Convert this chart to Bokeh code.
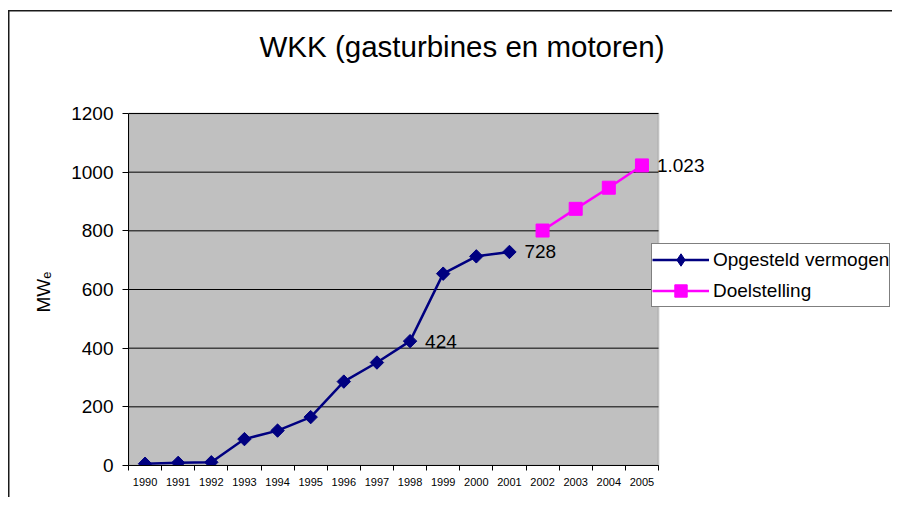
from bokeh.plotting import figure
from bokeh.models import (ColumnDataSource, FixedTicker, Legend, LegendItem,
                          Range1d, BoxAnnotation, Label, Title)
from bokeh.embed import file_html
from bokeh.resources import INLINE
from bokeh.core.properties import value
import numpy as np

# ---- data ----
title_text = "WKK (gasturbines en motoren)"
y_label = "MWₑ"
years_all = [1990, 1991, 1992, 1993, 1994, 1995, 1996, 1997, 1998, 1999,
             2000, 2001, 2002, 2003, 2004, 2005]
years_installed = [1990, 1991, 1992, 1993, 1994, 1995, 1996, 1997, 1998, 1999, 2000, 2001]
installed = [6, 9, 11, 90, 119, 165, 286, 351, 424, 654, 713, 728]
years_target = [2002, 2003, 2004, 2005]
target = [801, 875, 947, 1023]
y_ticks = [0, 200, 400, 600, 800, 1000, 1200]
label_years_installed = [1998, 2001]
label_years_target = [2005]
series_names = ["Opgesteld vermogen", "Doelstelling"]

FONT = "Liberation Sans"
NAVY = "#000080"
MAGENTA = "#FF00FF"

# ---- layout (pixels) ----
W, H = 892, 497
LEFT, BOTTOM = 128, 32
PLOT_AREA_W = 530            # width of the grey plot area in px
PLOT_AREA_H = 352            # height of the grey plot area in px
frame_w = W - LEFT
frame_h = H - BOTTOM
x0 = years_all[0] - 0.5
x1 = years_all[-1] + 0.5
x_end = x0 + (x1 - x0) * frame_w / PLOT_AREA_W
y_end = y_ticks[-1] * frame_h / PLOT_AREA_H

p = figure(width=W, height=H, output_backend="svg", toolbar_location=None,
           x_range=Range1d(x0, x_end), y_range=Range1d(y_ticks[0], y_end),
           min_border_left=LEFT, min_border_right=0,
           min_border_top=0, min_border_bottom=BOTTOM)
p.background_fill_color = None
p.border_fill_color = None
p.outline_line_color = None
p.title.text = ""
# outer chart-area border (left and top edges)
p.styles = {
    "background-image": "linear-gradient(#1a1a1a, #1a1a1a), linear-gradient(#1a1a1a, #1a1a1a)",
    "background-size": "1.5px 100%, 100% 1.5px",
    "background-position": "8px 10px, 8px 10px",
    "background-repeat": "no-repeat",
}

# title (inside the frame area, screen units)
p.add_layout(Label(x=333.5, y=419, x_units="screen", y_units="screen",
                   text=title_text, text_align="center", text_baseline="alphabetic",
                   text_font=FONT, text_font_size="29.5px", text_color="black"))

# grey plot area
p.add_layout(BoxAnnotation(left=x0, right=x1, bottom=y_ticks[0], top=y_ticks[-1],
                           fill_color="#C0C0C0", fill_alpha=1.0,
                           line_color="#808080", line_width=2, level="underlay"))

# axes
boundaries = [y - 0.5 for y in years_all] + [years_all[-1] + 0.5]
p.xaxis.bounds = (x0, x1)
p.xaxis.ticker = FixedTicker(ticks=years_all, minor_ticks=boundaries)
p.xaxis.major_tick_out = 0
p.xaxis.major_tick_in = 0
p.xaxis.minor_tick_out = 5
p.xaxis.minor_tick_in = 0
p.xaxis.minor_tick_line_color = "black"
p.xaxis.axis_line_color = "black"
p.xaxis.major_label_text_font = FONT
p.xaxis.major_label_text_font_size = "11px"
p.xaxis.major_label_text_color = "black"
p.xaxis.major_label_standoff = 7

p.yaxis.bounds = (y_ticks[0], y_ticks[-1])
p.yaxis.ticker = FixedTicker(ticks=y_ticks, minor_ticks=[])
p.yaxis.major_tick_out = 6
p.yaxis.major_tick_in = 0
p.yaxis.major_tick_line_color = "black"
p.yaxis.axis_line_color = "black"
p.yaxis.major_label_text_font = FONT
p.yaxis.major_label_text_font_size = "19px"
p.yaxis.major_label_text_color = "black"
p.yaxis.major_label_standoff = 9

# y axis title in the left panel, positioned along the grey plot area
p.add_layout(Title(text=y_label, align="left", offset=153, vertical_align="bottom",
                   standoff=30, text_font=FONT, text_font_size="19px",
                   text_font_style="normal", text_color="black"), "left")

p.xgrid.visible = False
p.ygrid.visible = False
# horizontal gridlines limited to the plot area
p.segment(x0=[x0] * len(y_ticks), x1=[x1] * len(y_ticks), y0=y_ticks, y1=y_ticks,
          line_color="black", line_width=1)

# series
src_i = ColumnDataSource(dict(x=years_installed, y=installed))
src_t = ColumnDataSource(dict(x=years_target, y=target))
l1 = p.line("x", "y", source=src_i, line_color=NAVY, line_width=2.5)
# diamond symbol (used for the legend; sits inside the rotated-square markers)
m1_leg = p.scatter("x", "y", source=src_i, marker="diamond", size=12,
                   fill_color=NAVY, line_color=NAVY)
m1 = p.scatter("x", "y", source=src_i, marker="square", angle=np.pi / 4, size=9.5,
               fill_color=NAVY, line_color=NAVY)
l2 = p.line("x", "y", source=src_t, line_color=MAGENTA, line_width=2.5)
m2 = p.scatter("x", "y", source=src_t, marker="square", size=13,
               fill_color=MAGENTA, line_color=MAGENTA)

# data labels
def fmt(v):
    return f"{v:,}".replace(",", ".")

lx, ly, lt = [], [], []
for yr in label_years_installed:
    v = installed[years_installed.index(yr)]
    lx.append(yr); ly.append(v); lt.append(fmt(v))
for yr in label_years_target:
    v = target[years_target.index(yr)]
    lx.append(yr); ly.append(v); lt.append(fmt(v))
src_l = ColumnDataSource(dict(x=lx, y=ly, text=lt))
p.text("x", "y", text="text", source=src_l, x_offset=15,
       text_baseline="middle", text_align="left",
       text_font=value(FONT), text_font_size="19px", text_color="black")

# legend
legend = Legend(items=[LegendItem(label=series_names[0], renderers=[l1, m1_leg]),
                       LegendItem(label=series_names[1], renderers=[l2, m2])],
                location=(523, 158), orientation="vertical",
                padding=0, spacing=0, margin=0,
                glyph_width=57, glyph_height=31, label_height=31,
                label_standoff=4,
                label_text_font=FONT, label_text_font_size="19px",
                label_text_color="black", label_text_baseline="middle",
                border_line_color="black", border_line_width=1,
                background_fill_color="white", background_fill_alpha=1.0)
p.add_layout(legend, "center")

open("out.html", "w").write(file_html(p, INLINE))
